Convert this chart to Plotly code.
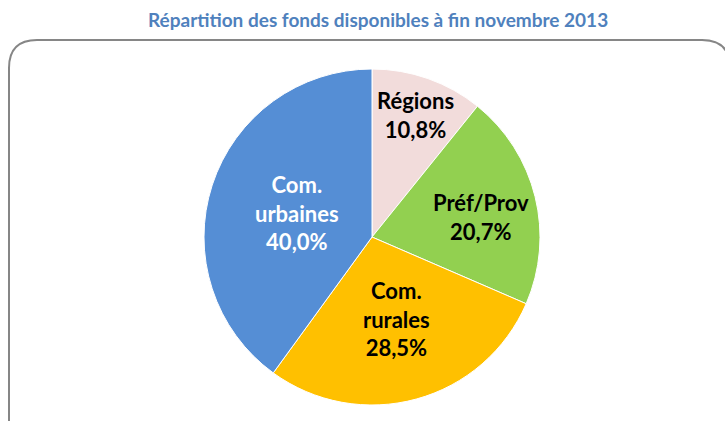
import plotly.graph_objects as go

categories = ["Régions", "Préf/Prov", "Com. rurales", "Com. urbaines"]
values = [10.8, 20.7, 28.5, 40.0]
label_lines = ["Régions", "Préf/Prov", "Com.<br>rurales", "Com.<br>urbaines"]
colors = ["#F2DCDB", "#92D050", "#FFC000", "#558ED5"]
text_colors = ["#000000", "#000000", "#000000", "#FFFFFF"]
title = "Répartition des fonds disponibles à fin novembre 2013"

W, H = 725, 421

def px(x):
    return x / W

def py(y):
    return 1 - y / H

fig = go.Figure()
fig.add_trace(go.Pie(
    labels=categories,
    values=values,
    sort=False,
    direction="clockwise",
    rotation=0,
    marker=dict(colors=colors, line=dict(color="white", width=1)),
    textinfo="none",
    hoverinfo="label+percent",
    showlegend=False,
    domain=dict(x=[px(203), px(541)], y=[py(405), py(69)]),
))

# label positions (pixel centres)
label_pos = [(415, 115), (481, 217), (396, 319), (297, 213)]
for lab, v, (lx, ly), tc in zip(label_lines, values, label_pos, text_colors):
    pct = f"{v:.1f}".replace(".", ",") + "%"
    txt = f"{lab}<br>{pct}"
    fig.add_annotation(
        x=px(lx), y=py(ly), xref="paper", yref="paper",
        text=txt, showarrow=False,
        font=dict(family="Lato", size=22, color=tc, weight="bold"),
        align="center", xanchor="center", yanchor="middle",
    )

fig.add_annotation(
    x=px(378), y=py(19), xref="paper", yref="paper",
    text=f"<b>{title}</b>", showarrow=False,
    font=dict(family="Lato", size=19, color="#4F81BD"),
    xanchor="center", yanchor="middle",
)

# rounded frame
x0, y0, x1, y1, r = 9, 40, 730, 440, 28
path = (f"M {px(x0)},{py(y1)} L {px(x0)},{py(y0 + r)} "
        f"Q {px(x0)},{py(y0)} {px(x0 + r)},{py(y0)} "
        f"L {px(x1 - r)},{py(y0)} Q {px(x1)},{py(y0)} {px(x1)},{py(y0 + r)} "
        f"L {px(x1)},{py(y1)}")
fig.add_shape(type="path", path=path, xref="paper", yref="paper",
              line=dict(color="#868686", width=2))

fig.update_layout(
    width=W, height=H,
    margin=dict(l=0, r=0, t=0, b=0),
    paper_bgcolor="white", plot_bgcolor="white",
)

fig.write_html("out.html")
